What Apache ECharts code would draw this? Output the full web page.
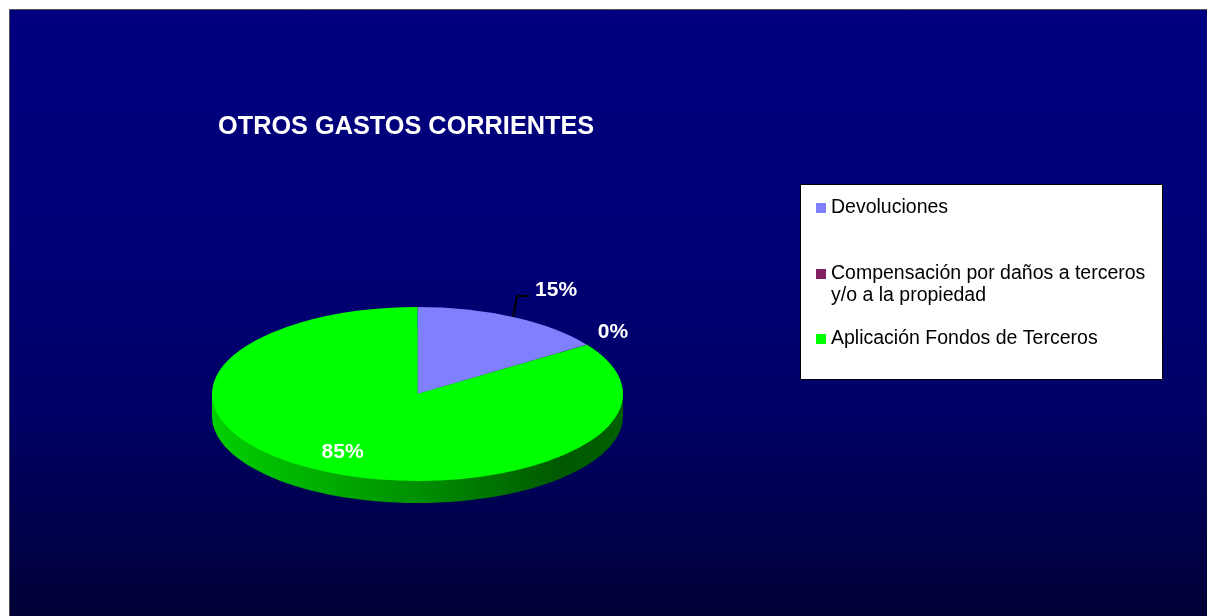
<!DOCTYPE html>
<html>
<head>
<meta charset="utf-8">
<style>
  html, body { margin: 0; padding: 0; background: #fff; }
  #chart { width: 1207px; height: 616px; }
</style>
<script src="https://cdn.jsdelivr.net/npm/echarts@6/dist/echarts.min.js"></script>
</head>
<body>
<div id="chart"></div>
<script>
const titleText = "OTROS GASTOS CORRIENTES";
const categories = ["Devoluciones", "Compensación por daños a terceros", "Aplicación Fondos de Terceros"];
const legendSecondLines = ["", "y/o a la propiedad", ""];
const values = [15.4, 0.05, 84.55];
const colors = ["#8080ff", "#802060", "#00ff00"];

const FONT = '"Liberation Sans", Arial, sans-serif';
const total = values.reduce((a, b) => a + b, 0);

// pie geometry, squashed circle to get the tilted look
const pie = { cx: 417.5, cy: 394, rx: 205.5, ry: 87, depth: 22 };
// where each % label sits: radial factor from centre + pixel offset
const labelPlace = [
  { f: 1, dx: 43, dy: -27, leader: true },
  { f: 1, dx: 26, dy: -13 },
  { f: 0.75, dx: -3, dy: 0 },
];

function rimPoint(frac, f) {
  const a = frac * Math.PI * 2;
  return [pie.cx + Math.sin(a) * pie.rx * f, pie.cy - Math.cos(a) * pie.ry * f];
}

function renderSlice(idx) {
  return function (params, api) {
    const before = values.slice(0, idx).reduce((a, b) => a + b, 0) / total;
    const frac = api.value(0) / total;
    const place = labelPlace[idx];
    const anchor = rimPoint(before + frac / 2, place.f);
    const lx = anchor[0] + place.dx;
    const ly = anchor[1] + place.dy;
    const children = [{
      type: "sector",
      x: pie.cx,
      y: pie.cy,
      scaleY: pie.ry / pie.rx,
      shape: {
        cx: 0, cy: 0, r0: 0, r: pie.rx,
        startAngle: -Math.PI / 2 + before * Math.PI * 2,
        endAngle: -Math.PI / 2 + (before + frac) * Math.PI * 2,
        clockwise: true,
      },
      style: { fill: api.visual("color") },
    }];
    if (place.leader) {
      children.push({
        type: "polyline",
        z2: 5,
        shape: { points: [anchor, [anchor[0] + 4, anchor[1] - 21], [anchor[0] + 16, anchor[1] - 21]] },
        style: { stroke: "#000", lineWidth: 2, fill: null },
      });
    }
    children.push({
      type: "text",
      z2: 10,
      x: lx,
      y: ly,
      style: {
        text: Math.round(api.value(0) / total * 100) + "%",
        fill: "#fff",
        font: "bold 21px " + FONT,
        align: "center",
        verticalAlign: "middle",
      },
    });
    return { type: "group", children: children };
  };
}

// side wall of the pie, drawn under the slices
function renderWall() {
  const fill = new echarts.graphic.LinearGradient(
    pie.cx - pie.rx, 0, pie.cx + pie.rx, 0,
    [
      { offset: 0, color: "#00d000" },
      { offset: 0.5, color: "#009000" },
      { offset: 0.85, color: "#005800" },
      { offset: 1, color: "#006000" },
    ],
    true
  );
  return {
    type: "group",
    children: [
      { type: "rect", shape: { x: pie.cx - pie.rx, y: pie.cy, width: pie.rx * 2, height: pie.depth }, style: { fill: fill } },
      { type: "ellipse", shape: { cx: pie.cx, cy: pie.cy + pie.depth, rx: pie.rx, ry: pie.ry }, style: { fill: fill } },
    ],
  };
}

const legendTops = [197, 241, 328];
const legends = categories.map((name, i) => ({
  data: [name],
  left: 816,
  top: legendTops[i],
  padding: 0,
  icon: "rect",
  itemWidth: 10,
  itemHeight: 10,
  selectedMode: false,
  // blank first line keeps the marker level with the first text line
  formatter: legendSecondLines[i] ? "\n" + name + "\n" + legendSecondLines[i] : name,
  textStyle: { color: "#000", fontFamily: FONT, fontSize: 19.5, lineHeight: 22 },
}));

const sliceSeries = categories.map((name, i) => ({
  type: "custom",
  name: name,
  coordinateSystem: "none",
  silent: true,
  z: 3,
  itemStyle: { color: colors[i] },
  data: [[values[i]]],
  renderItem: renderSlice(i),
}));

const chart = echarts.init(document.getElementById("chart"), null, { renderer: "canvas" });
chart.setOption({
  animation: false,
  backgroundColor: "#ffffff",
  title: {
    text: titleText,
    left: 218,
    top: 115,
    padding: 0,
    textStyle: { color: "#fff", fontFamily: FONT, fontWeight: "bold", fontSize: 25.3 },
  },
  legend: legends,
  graphic: {
    elements: [
      {
        type: "rect",
        z: -10,
        shape: { x: 9.5, y: 9.5, width: 1210, height: 620 },
        style: {
          fill: new echarts.graphic.LinearGradient(0, 0, 0, 1, [
            { offset: 0, color: "#000080" },
            { offset: 0.4, color: "#000076" },
            { offset: 0.65, color: "#000066" },
            { offset: 0.82, color: "#00004e" },
            { offset: 1, color: "#000033" },
          ]),
          stroke: "#555",
          lineWidth: 1,
        },
      },
      {
        type: "rect",
        z: 0,
        shape: { x: 800.5, y: 184.5, width: 362, height: 195 },
        style: { fill: "#fff", stroke: "#000", lineWidth: 1 },
      },
    ],
  },
  series: [
    {
      type: "custom",
      name: "pared",
      coordinateSystem: "none",
      silent: true,
      z: 2,
      data: [[0]],
      renderItem: renderWall,
    },
  ].concat(sliceSeries),
});
</script>
</body>
</html>
